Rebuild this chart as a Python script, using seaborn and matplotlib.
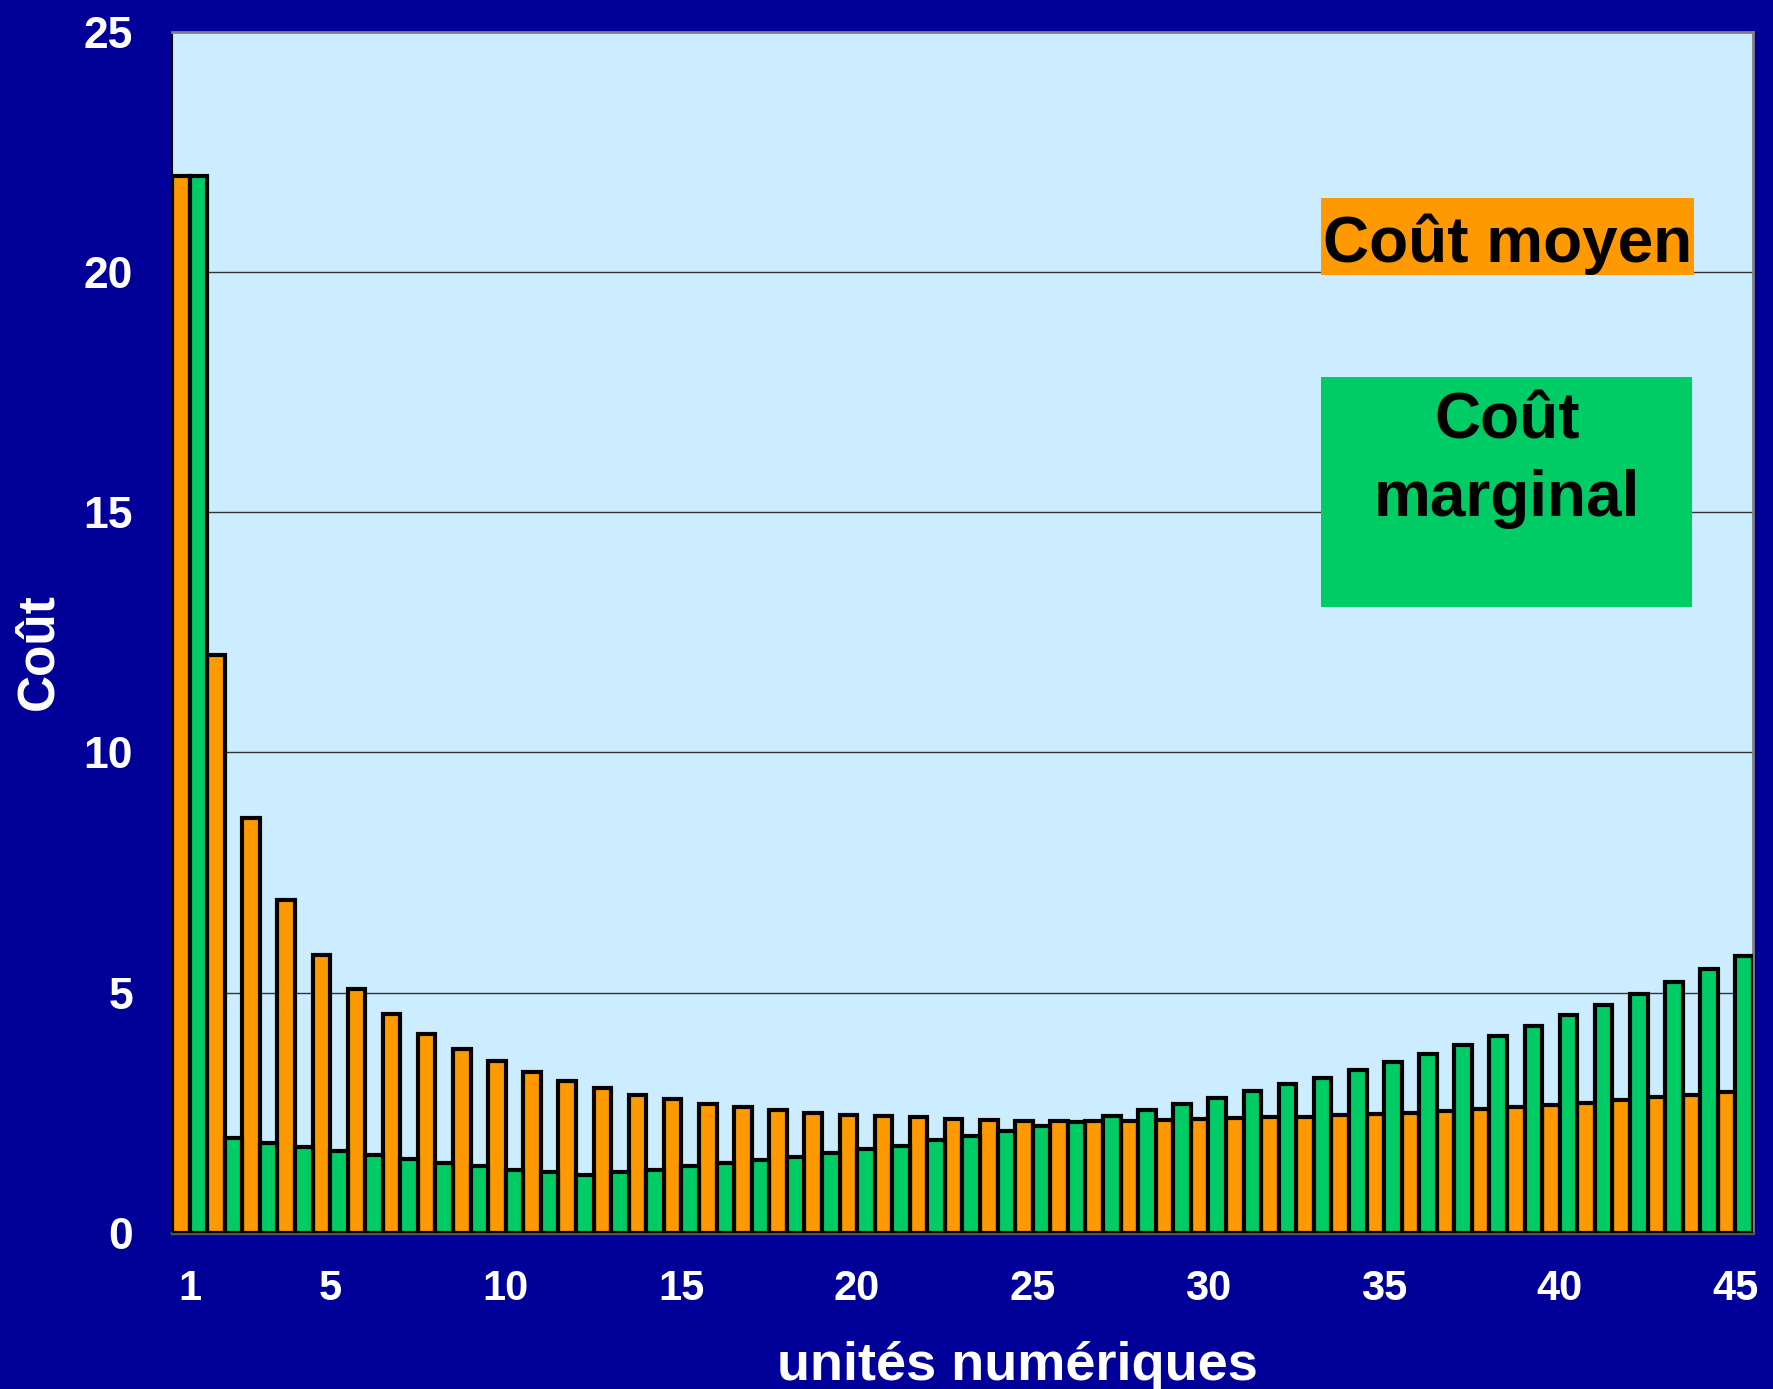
import matplotlib
matplotlib.use("Agg")
import matplotlib.pyplot as plt
from matplotlib.patches import Rectangle
import seaborn as sns
import pandas as pd
import numpy as np

# ---- data ----
units = list(range(1, 46))
cout_moyen = [22.0, 12.03, 8.63, 6.94, 5.78, 5.08, 4.55, 4.15, 3.83, 3.58,
              3.36, 3.17, 3.02, 2.88, 2.79, 2.69, 2.62, 2.55, 2.50, 2.46,
              2.43, 2.41, 2.38, 2.36, 2.34, 2.34, 2.34, 2.33, 2.36, 2.38,
              2.40, 2.41, 2.42, 2.45, 2.48, 2.50, 2.54, 2.59, 2.63, 2.67,
              2.71, 2.77, 2.83, 2.88, 2.94]
cout_marginal = [22.0, 1.98, 1.87, 1.79, 1.70, 1.62, 1.53, 1.46, 1.40, 1.32,
                 1.26, 1.21, 1.26, 1.32, 1.39, 1.45, 1.52, 1.59, 1.67, 1.75,
                 1.82, 1.93, 2.02, 2.12, 2.22, 2.32, 2.43, 2.55, 2.68, 2.81,
                 2.95, 3.10, 3.23, 3.39, 3.55, 3.73, 3.92, 4.10, 4.31, 4.53,
                 4.74, 4.97, 5.23, 5.49, 5.77]
series_names = ["Coût moyen", "Coût marginal"]
xtick_labels = [1, 5, 10, 15, 20, 25, 30, 35, 40, 45]
yticks = [0, 5, 10, 15, 20, 25]

df = pd.DataFrame({
    "unit": units * 2,
    "series": [series_names[0]] * len(units) + [series_names[1]] * len(units),
    "value": cout_moyen + cout_marginal,
})

# ---- style ----
ORANGE = "#FF9900"
GREEN = "#00CC66"
FIG_BG = "#000099"
AX_BG = "#CCECFF"

sns.set_style("white")
plt.rcParams["font.family"] = ["Liberation Sans", "DejaVu Sans"]

fig = plt.figure(figsize=(17.73, 13.89), dpi=100, facecolor=FIG_BG)
ax = fig.add_axes([0.097, 0.1123, 0.8917, 0.8649])
ax.set_facecolor(AX_BG)

sns.barplot(data=df, x="unit", y="value", hue="series", order=units,
            hue_order=series_names, palette=[ORANGE, GREEN], width=1.0,
            gap=0, edgecolor="black", linewidth=3.0, saturation=1,
            legend=False, ax=ax, zorder=3)

ax.set_xlim(-0.5, len(units) - 0.5)
ax.set_ylim(0, 25)

# grid
ax.set_yticks(yticks)
ax.set_yticklabels([str(v) for v in yticks], color="white",
                   fontsize=32, fontweight="bold")
for v in yticks[1:-1]:
    ax.axhline(v, color="#333333", lw=1.0, zorder=1)

# x ticks
pos = [units.index(u) for u in xtick_labels]
ax.set_xticks(pos)
ax.set_xticklabels([str(u) for u in xtick_labels], color="white",
                   fontsize=30, fontweight="bold")
ax.set_xticks(np.arange(-0.5, len(units), 1.0), minor=True)
ax.tick_params(axis="x", which="major", length=0, pad=26)
ax.tick_params(axis="x", which="minor", length=9, width=1.2,
               color="black", direction="out")
ax.tick_params(axis="y", which="major", length=5, width=1.2,
               color="black", direction="out", pad=23)

for side in ["top", "right"]:
    ax.spines[side].set_color("#808080")
    ax.spines[side].set_linewidth(2)
ax.spines["left"].set_color("black")
ax.spines["left"].set_linewidth(1.5)
ax.spines["bottom"].set_color("#555555")
ax.spines["bottom"].set_linewidth(2.5)

ax.set_xlabel("unités numériques", color="white", fontsize=39,
              fontweight="bold")
ax.xaxis.set_label_coords(0.535, -0.0897)
ax.set_ylabel("Coût", color="white", fontsize=37, fontweight="bold")
ax.yaxis.set_label_coords(-0.069, 0.4836)

# legend boxes
ax.add_patch(Rectangle((0.7267, 0.7975), 0.236, 0.0641,
                       transform=ax.transAxes, facecolor=ORANGE,
                       edgecolor="none", zorder=5))
ax.text(0.8447, 0.8085, series_names[0], transform=ax.transAxes,
        ha="center", va="baseline", fontsize=46, fontweight="bold",
        color="black", zorder=6)
ax.add_patch(Rectangle((0.7267, 0.5211), 0.2347, 0.1915,
                       transform=ax.transAxes, facecolor=GREEN,
                       edgecolor="none", zorder=5))
ax.text(0.8445, 0.6610, "Coût", transform=ax.transAxes,
        ha="center", va="baseline", fontsize=46, fontweight="bold",
        color="black", zorder=6)
ax.text(0.8445, 0.5971, "marginal", transform=ax.transAxes,
        ha="center", va="baseline", fontsize=46, fontweight="bold",
        color="black", zorder=6)

fig.savefig("out.png", dpi=100, facecolor=FIG_BG)
